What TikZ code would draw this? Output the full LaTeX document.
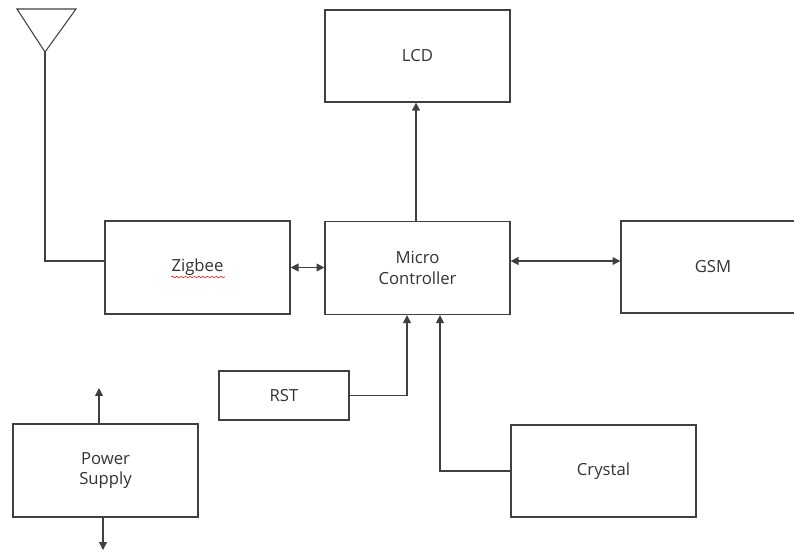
\documentclass[tikz,border=0pt]{standalone}
\usepackage{fontspec}
\setmainfont{Open Sans}
\usetikzlibrary{arrows.meta,decorations.pathmorphing}
\definecolor{edge}{HTML}{404040}
\definecolor{ink}{HTML}{333333}
\begin{document}
\begin{tikzpicture}[x=0.02cm,y=-0.02cm,
  block/.style={draw=edge,line width=0.7pt,fill=white,inner sep=0pt,
    align=center,text=ink,font=\fontsize{9.5}{11.6}\selectfont},
  link/.style={draw=edge,line width=0.6pt,-{Triangle[length=4.5pt,width=4.5pt]}},
  both/.style={link,{Triangle[length=4.5pt,width=4.5pt]}-{Triangle[length=4.5pt,width=4.5pt]}}]
  \useasboundingbox (0,0) rectangle (794,552);
  \clip (0,0) rectangle (794,552);
  \node[block,minimum width=3.7cm,minimum height=1.84cm] (lcd) at (417.5,56) {LCD};
  \node[block,minimum width=3.7cm,minimum height=1.86cm] (mcu) at (417.5,268) {Micro\\Controller};
  \node[block,minimum width=3.7cm,minimum height=1.86cm] (zig) at (197.5,267.5) {Zigbee};
  \node[block,minimum width=3.68cm,minimum height=1.84cm] (gsm) at (713,267) {GSM};
  \node[block,minimum width=2.6cm,minimum height=0.98cm] (rst) at (284,395.5) {RST};
  \node[block,minimum width=3.7cm,minimum height=1.86cm] (psu) at (105.5,470.5) {Power\\Supply};
  \node[block,minimum width=3.7cm,minimum height=1.84cm] (xtal) at (603.5,471) {Crystal};
  % antenna
  \coordinate (ant) at (45,52);
  \coordinate (feed) at (0,261);
  \draw[edge,line width=0.6pt] (17,9) -- (76,9) -- (ant) -- cycle;
  \draw[edge,line width=0.6pt] (ant) |- (zig.west |- feed);
  % spell check mark
  \draw[red,line width=0.3pt,decorate,decoration={snake,segment length=2.5pt,amplitude=0.4pt}] (171,277) -- (225,277);
  % links to the controller
  \coordinate (gline) at (0,261);
  \coordinate (rstin) at (407,0);
  \coordinate (xin) at (440,0);
  \draw[link] (mcu.north -| 416,0) -- (lcd.south -| 416,0);
  \draw[both] (zig.east) -- (zig.east -| mcu.west);
  \draw[both] (mcu.east |- gline) -- (gsm.west |- gline);
  \draw[link] (rst.east) -| (mcu.south -| rstin);
  \draw[link] (xtal.west) -| (mcu.south -| xin);
  % power supply
  \coordinate (pout) at (99,388);
  \coordinate (pgnd) at (103,550);
  \draw[link] (psu.north -| pout) -- (pout);
  \draw[link] (psu.south -| pgnd) -- (pgnd);
\end{tikzpicture}
\end{document}
